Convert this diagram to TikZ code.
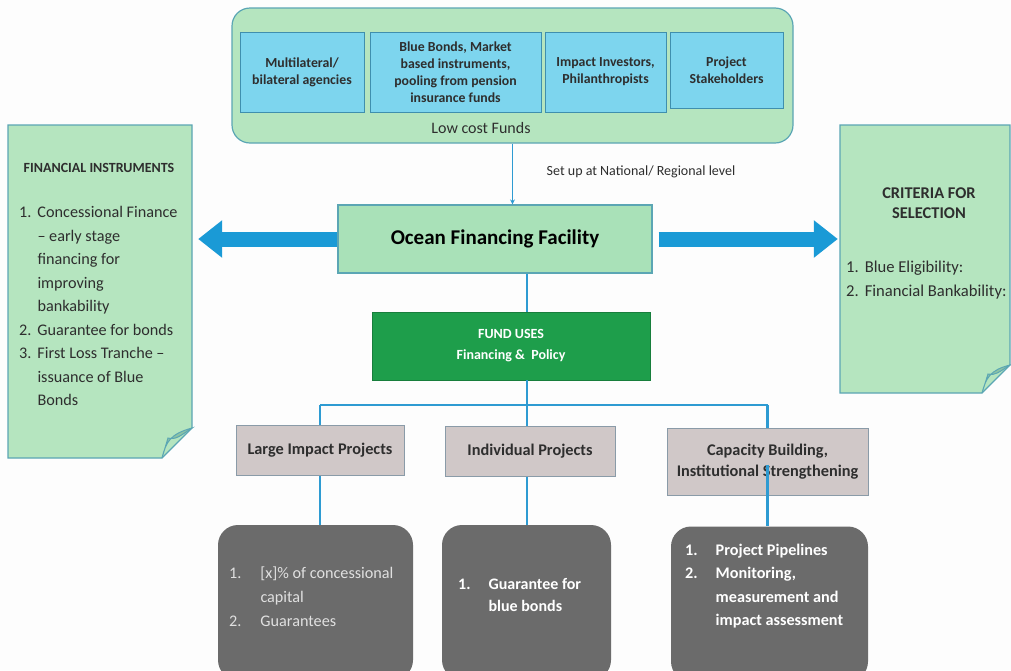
\documentclass[tikz,border=0pt]{standalone}
\usepackage{fontspec}
\setmainfont{Carlito}
\usetikzlibrary{arrows.meta,calc}
\definecolor{bg}{HTML}{FDFDFD}
\definecolor{pale}{HTML}{B5E5BF}
\definecolor{palefold}{HTML}{8CC3A4}
\definecolor{tealedge}{HTML}{5BA6B4}
\definecolor{cyanbox}{HTML}{7DD5EE}
\definecolor{cyanedge}{HTML}{3F8FAE}
\definecolor{oceanfill}{HTML}{A9E1B8}
\definecolor{fundfill}{HTML}{1E9E4B}
\definecolor{greybox}{HTML}{D0C8C8}
\definecolor{greyedge}{HTML}{8A9BA8}
\definecolor{darkbox}{HTML}{6B6B6B}
\definecolor{wire}{HTML}{2E9BD2}
\definecolor{bigblue}{HTML}{1A9AD6}
\definecolor{ink}{HTML}{2E2E2E}
\tikzset{
  srcbox/.style={draw=cyanedge, fill=cyanbox, line width=1pt, inner sep=1pt,
    align=center, text=ink, font=\fontsize{13.8}{17}\selectfont\bfseries},
  usebox/.style={draw=greyedge, fill=greybox, line width=1pt, align=center,
    text=ink, font=\fontsize{16.3}{21}\selectfont\bfseries},
  outbox/.style={fill=darkbox, rounded corners=20pt, minimum height=155pt},
  wireline/.style={draw=wire, line width=2.2pt},
  bigarrow/.style={draw=bigblue, line width=15pt, -{Triangle[width=36pt,length=24pt]}},
  notetext/.style={text=ink, align=left, inner sep=0pt}
}
\begin{document}
\begin{tikzpicture}[x=1pt,y=-1pt]
\useasboundingbox[fill=bg] (0,0) rectangle (1011,670);

% funding sources
\node[draw=tealedge, fill=pale, line width=1.2pt, rounded corners=18pt,
  minimum width=561pt, minimum height=135pt] (top) at (512.5,75.5) {};
\node[srcbox, minimum width=124pt, minimum height=80pt] (s1) at (302,72) {Multilateral/\\bilateral agencies};
\node[srcbox, minimum width=171pt, minimum height=80pt] (s2) at (455.5,72) {Blue Bonds, Market\\based instruments,\\pooling from pension\\insurance funds};
\node[srcbox, minimum width=121pt, minimum height=80pt] (s3) at (605.5,72) {Impact Investors,\\Philanthropists};
\node[srcbox, minimum width=113pt, minimum height=76pt] (s4) at (726.5,70) {Project\\Stakeholders};
\node[text=ink, font=\fontsize{16}{18}\selectfont] (low) at (481,128) {Low cost Funds};

% facility
\node[draw=tealedge, fill=oceanfill, line width=1.2pt, minimum width=314pt,
  minimum height=68pt, text=black, font=\fontsize{21}{24}\selectfont\bfseries] (ocean) at (495,239) {Ocean Financing Facility};
\node[text=ink, font=\fontsize{14}{16}\selectfont] (setup) at (641,172) {Set up at National/ Regional level};
\draw[wire, line width=1.5pt, -{Stealth[length=5pt,width=5pt]}] (top.south) -- (top.south |- ocean.north);

% fund uses
\node[draw=fundfill!80!black, fill=fundfill, minimum width=278pt, minimum height=68pt,
  text=white, align=center, font=\fontsize{14}{21}\selectfont\bfseries] (fund) at (511,346) {FUND USES\\Financing \&\ \ Policy};

% instrument and criteria notes
\coordinate (busC) at (527,405);
\filldraw[draw=tealedge, fill=pale, line width=1.2pt]
  (8,125) -- (192,125) -- (192,428) -- (162,458) -- (8,458) -- cycle;
\filldraw[draw=tealedge, fill=palefold, line width=1pt]
  (162,458) .. controls (166,442) and (170,434) .. (192,428) .. controls (180,436) and (176,440) .. (168,438) -- cycle;
\node[notetext, font=\fontsize{14}{16}\selectfont\bfseries] (fitl) at (99,168) {FINANCIAL INSTRUMENTS};
\node[notetext, anchor=north west, font=\fontsize{16.2}{23.5}\selectfont] (filist) at (19,201)
  {\begin{tabular}{@{}l@{\hspace{6pt}}l@{}}
   1. & Concessional Finance\\
      & -- early stage\\
      & financing for\\
      & improving\\
      & bankability\\
   2. & Guarantee for bonds\\
   3. & First Loss Tranche --\\
      & issuance of Blue\\
      & Bonds
   \end{tabular}};
\node[inner sep=0pt, minimum width=184pt, minimum height=333pt] (leftnote) at (100,291.5) {};

\filldraw[draw=tealedge, fill=pale, line width=1.2pt]
  (840,125) -- (1010,125) -- (1010,365) -- (982,393) -- (840,393) -- cycle;
\filldraw[draw=tealedge, fill=palefold, line width=1pt]
  (982,393) .. controls (986,378) and (990,370) .. (1010,365) .. controls (999,372) and (995,376) .. (988,374) -- cycle;
\node[notetext, align=center, font=\fontsize{16.4}{20}\selectfont\bfseries] (crtl) at (929,203) {CRITERIA FOR\\SELECTION};
\node[notetext, anchor=north west, font=\fontsize{16.6}{23.5}\selectfont] (crlist) at (846,256)
  {\begin{tabular}{@{}l@{\hspace{6pt}}l@{}}
   1. & Blue Eligibility:\\
   2. & Financial Bankability:
   \end{tabular}};
\node[inner sep=0pt, minimum width=170pt, minimum height=268pt] (rightnote) at (925,259) {};

\draw[bigarrow] (ocean.west) -- ([xshift=6pt]leftnote.east |- ocean.west);
\draw[bigarrow, shorten >=2pt] ([xshift=6pt]ocean.east) -- (rightnote.west |- ocean.east);

% fund uses split
\node[usebox, minimum width=168pt, minimum height=50pt] (large) at (320,450) {Large Impact Projects};
\node[usebox, minimum width=170pt, minimum height=50pt] (indiv) at (530,451) {Individual Projects};
\node[usebox, minimum width=201pt, minimum height=67pt] (cap) at (767.5,461.5) {Capacity Building,\\Institutional Strengthening};

\draw[wireline] (ocean.south -| busC) -- (fund.north -| busC);
\draw[wireline] (fund.south -| busC) -- (busC);
\draw[wireline] (large.north |- busC) -- (cap.north |- busC);
\draw[wireline] (large.north |- busC) -- (large.north);
\draw[wireline] (busC) -- (indiv.north -| busC);
\draw[wireline] (cap.north |- busC) -- (cap.north);

% outcomes
\node[outbox, minimum width=195pt] (o1) at (315.5,602.5) {};
\node[outbox, minimum width=169pt] (o2) at (526.5,602.5) {};
\node[outbox, minimum width=197pt] (o3) at (769.5,604) {};
\draw[wireline] (large.south) -- (large.south |- o1.north);
\draw[wireline] (indiv.south -| busC) -- (o2.north -| busC);
\draw[wireline] ([yshift=-3pt]cap.center) -- (cap.center |- o3.north);

\node[text=white!88!black, anchor=north west, inner sep=0pt, font=\fontsize{16.2}{24}\selectfont] (o1t) at (229,561)
  {\begin{tabular}{@{}l@{\hspace{19pt}}l@{}}
   1. & [x]\% of concessional\\
      & capital\\
   2. & Guarantees
   \end{tabular}};
\node[text=white, anchor=north west, inner sep=0pt, font=\fontsize{16}{22}\selectfont\bfseries] (o2t) at (458,574)
  {\begin{tabular}{@{}l@{\hspace{18pt}}l@{}}
   1. & Guarantee for\\
      & blue bonds
   \end{tabular}};
\node[text=white, anchor=north west, inner sep=0pt, font=\fontsize{16.2}{23.3}\selectfont\bfseries] (o3t) at (685,539)
  {\begin{tabular}{@{}l@{\hspace{18pt}}l@{}}
   1. & Project Pipelines\\
   2. & Monitoring,\\
      & measurement and\\
      & impact assessment
   \end{tabular}};
\end{tikzpicture}
\end{document}
